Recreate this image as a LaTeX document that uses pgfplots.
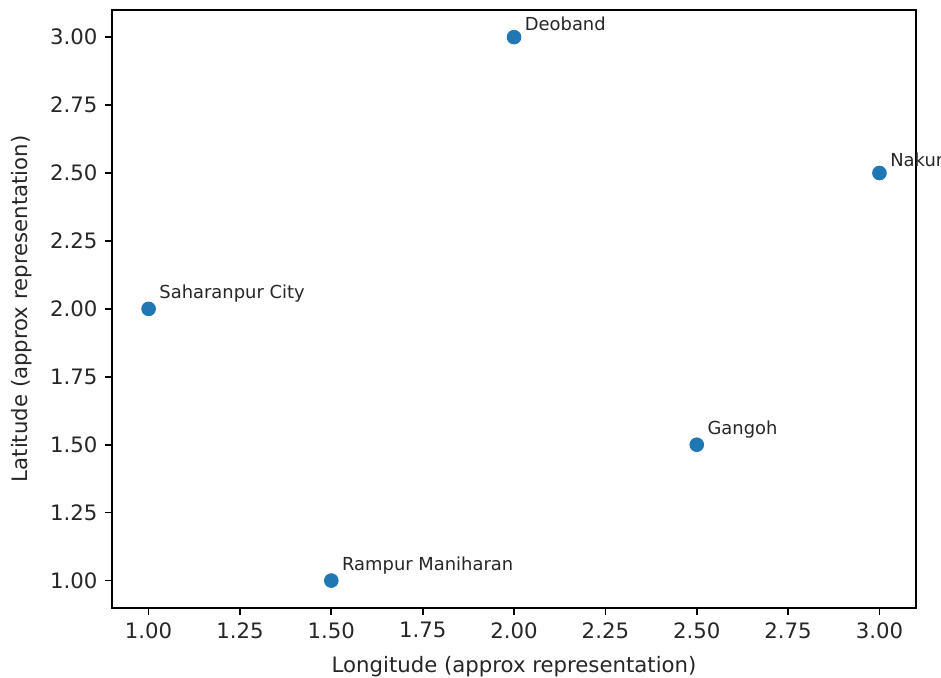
\documentclass[border=0pt]{standalone}
\usepackage{pgfplots}
\pgfplotsset{compat=1.18}
\usepackage{fontspec}
\setmainfont{DejaVu Sans}
\usetikzlibrary{calc}
\definecolor{mplblue}{HTML}{1F77B4}
\begin{document}
\begin{tikzpicture}
\begin{axis}[
  scale only axis,
  width=386pt, height=287pt,
  xmin=0.9, xmax=3.1, ymin=0.9, ymax=3.1,
  xtick={1,1.25,...,3.01}, ytick={1,1.25,...,3.01},
  /pgf/number format/.cd, fixed, fixed zerofill, precision=2, assume math mode=true,
  /pgfplots/.cd,
  tick align=outside, tick pos=left,
  major tick length=3.5pt,
  tick style={black, line width=0.8pt},
  axis line style={black, line width=0.8pt},
  tick label style={font=\fontsize{10.2}{12}\selectfont, text=black!85},
  label style={font=\fontsize{10.2}{12}\selectfont, text=black!85},
  xlabel={Longitude (approx representation)},
  ylabel={Latitude (approx representation)},
  xlabel style={yshift=-1.5pt},
  ylabel style={yshift=2pt},
  clip=false,
  nodes near coords,
  point meta=explicit symbolic,
  every node near coord/.style={anchor=south west, inner sep=0pt, xshift=5pt, yshift=3pt, font=\fontsize{8.6}{10}\selectfont, text=black!85},
]
\addplot[only marks, mark=*, mark size=3.3pt, mark options={fill=mplblue, draw=mplblue}]
 table[meta=label, col sep=comma] {
x,y,label
1.0,2.0,Saharanpur City
2.0,3.0,Deoband
1.5,1.0,Rampur Maniharan
2.5,1.5,Gangoh
3.0,2.5,Nakur
};
\coordinate (bl) at (rel axis cs:0,0);
\coordinate (tr) at (rel axis cs:1,1);
\end{axis}
\pgfresetboundingbox
\path ($(bl)+(-53.8pt,-33.6pt)$) rectangle ($(tr)+(12pt,4.8pt)$);
\end{tikzpicture}
\end{document}
